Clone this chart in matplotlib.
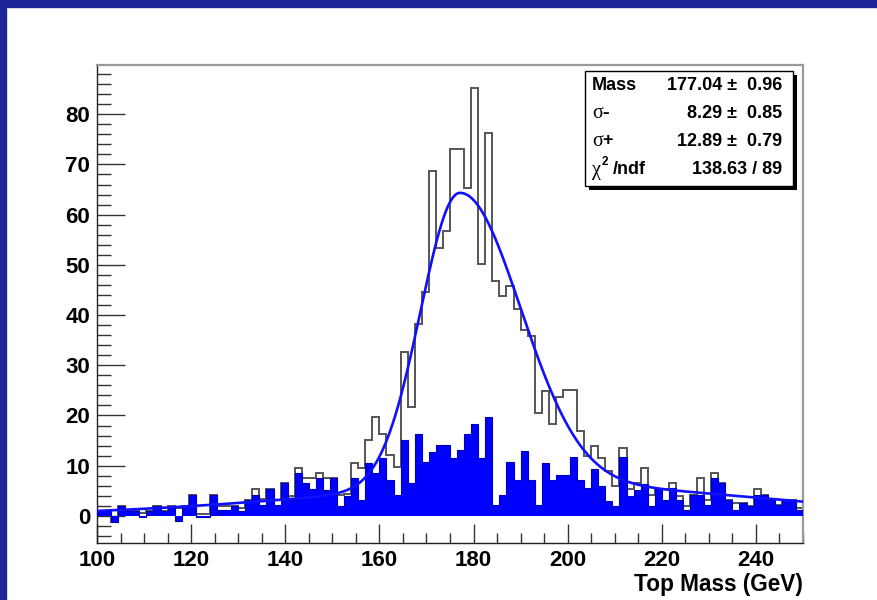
import numpy as np
import matplotlib
matplotlib.use("Agg")
import matplotlib.pyplot as plt
from matplotlib.patches import Rectangle

# ---- histogram contents: 100 bins of 1.5 GeV between 100 and 250 GeV ----
bin_lo, bin_hi, n_bins = 100.0, 250.0, 100

total_counts = [
    1.0, 1.0, -1.2, 2.0, 1.0, 1.0, 0.5, 1.0, 2.0, 1.0,
    2.0, 1.5, 2.0, 4.2, 0.3, 0.3, 4.2, 2.0, 2.0, 2.0,
    1.5, 3.2, 5.3, 3.3, 5.3, 3.2, 6.6, 4.0, 9.6, 7.5,
    7.6, 8.6, 7.5, 7.5, 4.2, 4.3, 10.5, 9.5, 15.1, 19.6,
    16.3, 12.1, 9.8, 32.6, 21.6, 38.2, 44.5, 68.7, 53.4, 56.7,
    73.1, 73.1, 65.4, 85.2, 50.1, 76.3, 46.8, 43.7, 45.7, 41.3,
    37.0, 35.8, 20.4, 24.9, 18.4, 23.7, 25.1, 25.1, 16.9, 12.0,
    14.0, 11.5, 9.0, 6.0, 13.5, 5.3, 6.5, 9.6, 4.2, 5.3,
    5.3, 6.6, 4.0, 2.0, 4.2, 7.5, 3.2, 8.6, 6.5, 3.2,
    2.6, 2.5, 2.0, 5.3, 4.2, 3.2, 2.2, 3.2, 3.2, 1.5,
]

subset_counts = [
    1.0, 1.0, -1.2, 2.0, 1.0, 1.0, -0.3, 1.0, 2.0, 1.0,
    2.0, -1.1, 2.0, 4.2, -0.3, -0.3, 4.2, 1.2, 1.2, 2.0,
    1.0, 3.2, 4.2, 2.2, 5.3, 2.2, 6.6, 3.2, 8.6, 6.6,
    5.3, 7.5, 5.2, 7.5, 2.0, 4.0, 7.5, 3.2, 10.5, 8.5,
    11.5, 7.2, 4.2, 15.1, 6.5, 16.3, 10.7, 12.8, 14.1, 14.1,
    11.6, 13.1, 16.3, 18.4, 11.6, 19.6, 2.1, 4.1, 10.8, 7.2,
    12.9, 7.2, 2.1, 10.5, 7.2, 8.2, 8.2, 11.8, 7.2, 5.5,
    9.3, 6.0, 3.0, 2.0, 11.8, 4.0, 5.2, 6.3, 2.0, 5.3,
    3.2, 5.5, 3.2, 1.1, 4.2, 4.2, 2.2, 7.5, 6.5, 3.2,
    1.1, 2.5, 2.0, 4.2, 4.2, 3.2, 2.2, 3.2, 3.2, 1.2,
]

# ---- fitted function: bifurcated gaussian peak on a broad background ----
fit_mass, fit_mass_err = 177.04, 0.96
fit_sig_lo, fit_sig_lo_err = 8.29, 0.85
fit_sig_hi, fit_sig_hi_err = 12.89, 0.79
fit_chi2, fit_ndf = 138.63, 89
peak_amp = 58.7
bkg_amp, bkg_mean, bkg_sig_lo, bkg_sig_hi = 6.0, 195.0, 50.0, 45.0


def bifurcated(x, amp, mean, s_lo, s_hi):
    s = np.where(x < mean, s_lo, s_hi)
    return amp * np.exp(-0.5 * ((x - mean) / s) ** 2)


def fit_function(x):
    return (bifurcated(x, peak_amp, fit_mass, fit_sig_lo, fit_sig_hi)
            + bifurcated(x, bkg_amp, bkg_mean, bkg_sig_lo, bkg_sig_hi))


# ---- figure ----
W, H = 877, 600
fig = plt.figure(figsize=(W / 100, H / 100), dpi=100)
fig.patch.set_facecolor("white")


def fx(x):
    return x / W


def fy(y):
    return 1 - y / H


navy = "#1b2597"
fig.patches.append(Rectangle((0, 0), 6 / W, 1, transform=fig.transFigure,
                             color=navy, zorder=0))
fig.patches.append(Rectangle((0, fy(7)), 1, 7 / H, transform=fig.transFigure,
                             color=navy, zorder=0))

ax = fig.add_axes([fx(97), fy(543), fx(803) - fx(97), fy(65) - fy(543)])
ax.set_xlim(bin_lo, bin_hi)
ax.set_ylim(-5.4, 89.8)

edges = np.linspace(bin_lo, bin_hi, n_bins + 1)
total = np.array(total_counts)
subset = np.array(subset_counts)

ax.stairs(total, edges, baseline=None, color="#555555", lw=1.4, zorder=2)
ax.stairs(subset, edges, baseline=0, fill=True, color="#0000ff", lw=0, zorder=3)
ax.stairs(subset, edges, baseline=None, color="#0000bb", lw=0.8, zorder=3)

xf = np.linspace(bin_lo, bin_hi, 800)
ax.plot(xf, fit_function(xf), color="#1010ff", lw=1.9, zorder=4)

# axes styling in the ROOT manner
for side in ("top", "right"):
    ax.spines[side].set_color("#9a9a9a")
    ax.spines[side].set_linewidth(1.6)
for side in ("left", "bottom"):
    ax.spines[side].set_color("#222222")
    ax.spines[side].set_linewidth(1.0)

tick_font = {"family": "Liberation Sans", "weight": "bold", "size": 16}
ax.set_xticks(np.arange(100, 251, 20))
ax.set_xticks(np.arange(100, 251, 5), minor=True)
ax.set_yticks(np.arange(0, 81, 10))
ax.set_yticks(np.arange(-4, 90, 2), minor=True)
ax.tick_params(axis="x", which="major", direction="in", length=14, width=1.0,
               color="#333333", pad=5, top=False)
ax.tick_params(axis="x", which="minor", direction="in", length=7, width=1.0,
               color="#333333", top=False)
ax.tick_params(axis="y", which="major", direction="in", length=20, width=1.0,
               color="#333333", pad=5, right=False)
ax.tick_params(axis="y", which="minor", direction="in", length=10, width=1.0,
               color="#333333", right=False)
for lab in ax.get_xticklabels() + ax.get_yticklabels():
    lab.set_fontproperties(tick_font)

fig.text(fx(803), fy(584), "Top Mass (GeV)", ha="right", va="center",
         fontfamily="Liberation Sans", fontweight="bold", fontsize=16.3)

# ---- statistics box ----
bx0, by0, bx1, by1 = 585, 71, 793, 186
fig.patches.append(Rectangle((fx(bx0 + 4), fy(by1 + 4)), (bx1 - bx0) / W, (by1 - by0) / H,
                             transform=fig.transFigure, facecolor="black",
                             edgecolor="none", zorder=5))
fig.patches.append(Rectangle((fx(bx0), fy(by1)), (bx1 - bx0) / W, (by1 - by0) / H,
                             transform=fig.transFigure, facecolor="white",
                             edgecolor="black", lw=1.0, zorder=6))

rows_y = [85, 113, 141, 169]
lab_x, val_x = 592, 782
bold = dict(fontfamily="Liberation Sans", fontweight="bold", fontsize=13, zorder=7)
greek = dict(fontfamily="Liberation Serif", fontsize=14.5, zorder=7)

fig.text(fx(lab_x), fy(rows_y[0]), "Mass", ha="left", va="center", **bold)
fig.text(fx(lab_x), fy(rows_y[1]), "\u03c3-", ha="left", va="center", **greek)
fig.text(fx(lab_x), fy(rows_y[2]), "\u03c3", ha="left", va="center", **greek)
fig.text(fx(lab_x + 10), fy(rows_y[2]), "+", ha="left", va="center", **bold)
fig.text(fx(lab_x), fy(rows_y[3] + 1), "\u03c7", ha="left", va="center", **greek)
fig.text(fx(lab_x + 10), fy(rows_y[3] - 7), "2", ha="left", va="center",
         fontfamily="Liberation Sans", fontweight="bold", fontsize=8.5, zorder=7)
fig.text(fx(lab_x + 21), fy(rows_y[3]), "/ndf", ha="left", va="center", **bold)

vals = [f"{fit_mass:.2f} \u00b1  {fit_mass_err:.2f}",
        f"{fit_sig_lo:.2f} \u00b1  {fit_sig_lo_err:.2f}",
        f"{fit_sig_hi:.2f} \u00b1  {fit_sig_hi_err:.2f}",
        f"{fit_chi2:.2f} / {fit_ndf}"]
for yv, s in zip(rows_y, vals):
    fig.text(fx(val_x), fy(yv), s, ha="right", va="center", **bold)

fig.savefig("out.png", dpi=100, facecolor="white")
